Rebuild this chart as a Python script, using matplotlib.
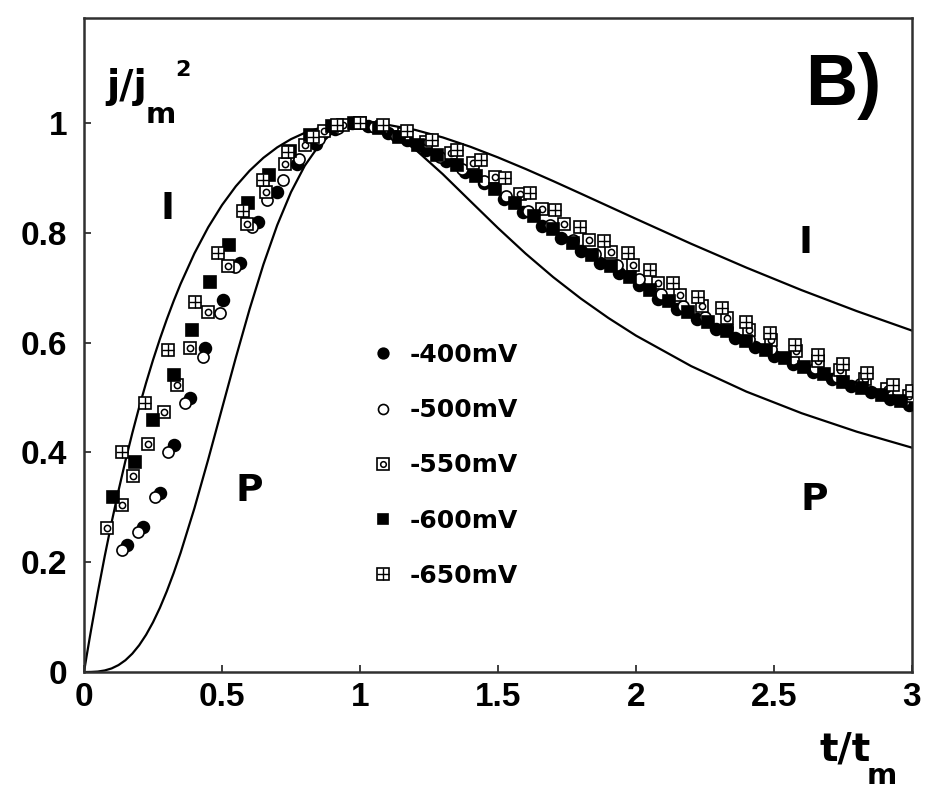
import matplotlib
matplotlib.use("Agg")
import matplotlib.pyplot as plt
from matplotlib.legend_handler import HandlerTuple

# Theoretical nucleation curves (instantaneous I and progressive P)
t_curve = [0, 0.01, 0.02, 0.025, 0.05, 0.075, 0.1, 0.125, 0.15, 0.175, 0.2,
           0.225, 0.25, 0.275, 0.3, 0.325, 0.35, 0.4, 0.45, 0.5, 0.55, 0.6,
           0.65, 0.7, 0.75, 0.8, 0.85, 0.9, 0.95, 1.0, 1.1, 1.2, 1.3, 1.4, 1.5,
           1.6, 1.7, 1.8, 1.9, 2.0, 2.2, 2.4, 2.6, 2.8, 3.0]
inst_curve = [0, 0.0305, 0.0602, 0.0747, 0.1449, 0.2107, 0.2724, 0.3302,
              0.3844, 0.4350, 0.4826, 0.5267, 0.5681, 0.6065, 0.6424, 0.6758,
              0.7068, 0.7623, 0.8099, 0.8503, 0.8845, 0.9129, 0.9364, 0.9554,
              0.9704, 0.9819, 0.9902, 0.9958, 0.9990, 1.0, 0.9965, 0.9872,
              0.9735, 0.9565, 0.9371, 0.9161, 0.8940, 0.8712, 0.8482, 0.8252,
              0.7798, 0.7364, 0.6954, 0.6572, 0.6217]
prog_curve = [0, 0.0, 0.0001, 0.0001, 0.0008, 0.0028, 0.0065, 0.0126, 0.0214,
              0.0334, 0.0488, 0.0678, 0.0905, 0.1169, 0.1470, 0.1804, 0.2170,
              0.2981, 0.3870, 0.4798, 0.5723, 0.6608, 0.7421, 0.8137, 0.8739,
              0.9221, 0.9580, 0.9822, 0.9958, 1.0, 0.9861, 0.9518, 0.9066,
              0.8574, 0.8085, 0.7620, 0.7191, 0.6801, 0.6447, 0.6126, 0.5570,
              0.5106, 0.4713, 0.4376, 0.4085]

# Experimental transients, (t/tm, (j/jm)^2)
t_400 = [0.156, 0.214, 0.275, 0.326, 0.384, 0.438, 0.504, 0.565, 0.63, 0.70,
         0.77, 0.84, 0.91, 0.97, 1.03, 1.1, 1.17, 1.24, 1.31, 1.38, 1.45, 1.52,
         1.59, 1.66, 1.73, 1.80, 1.87, 1.94, 2.01, 2.08, 2.15, 2.22, 2.29, 2.36,
         2.43, 2.50, 2.57, 2.64, 2.71, 2.78, 2.85, 2.92, 2.99]
j_400 = [0.231, 0.264, 0.326, 0.413, 0.499, 0.59, 0.678, 0.745, 0.82, 0.875,
         0.925, 0.962, 0.988, 0.999, 0.995, 0.982, 0.968, 0.950, 0.930, 0.910,
         0.890, 0.862, 0.838, 0.813, 0.79, 0.766, 0.745, 0.727, 0.705, 0.68,
         0.661, 0.643, 0.625, 0.608, 0.592, 0.576, 0.56, 0.546, 0.533, 0.521,
         0.51, 0.497, 0.487]

t_500 = [0.138, 0.196, 0.257, 0.304, 0.366, 0.43, 0.493, 0.547, 0.609, 0.663,
         0.72, 0.78, 0.85, 0.92, 1.05, 1.13, 1.21, 1.29, 1.37, 1.45, 1.53, 1.61,
         1.69, 1.77, 1.85, 1.93, 2.01, 2.09, 2.17, 2.25, 2.33, 2.41, 2.49, 2.57,
         2.65, 2.73, 2.81, 2.89, 2.97]
j_500 = [0.222, 0.255, 0.319, 0.40, 0.49, 0.574, 0.654, 0.738, 0.81, 0.86,
         0.896, 0.935, 0.97, 0.99, 0.992, 0.977, 0.960, 0.938, 0.916, 0.895,
         0.866, 0.840, 0.814, 0.787, 0.762, 0.741, 0.716, 0.688, 0.666, 0.646,
         0.626, 0.606, 0.588, 0.570, 0.553, 0.537, 0.524, 0.507, 0.494]

t_550 = [0.083, 0.138, 0.178, 0.232, 0.29, 0.337, 0.384, 0.45, 0.52, 0.59,
         0.66, 0.73, 0.80, 0.87, 0.94, 1.0, 1.08, 1.16, 1.24, 1.33, 1.41, 1.49,
         1.58, 1.66, 1.74, 1.83, 1.91, 1.99, 2.08, 2.16, 2.24, 2.33, 2.41, 2.49,
         2.58, 2.66, 2.74, 2.83, 2.91, 2.99]
j_550 = [0.262, 0.304, 0.357, 0.415, 0.473, 0.523, 0.59, 0.655, 0.74, 0.815,
         0.875, 0.925, 0.96, 0.985, 0.997, 1.0, 0.992, 0.980, 0.965, 0.945,
         0.927, 0.901, 0.870, 0.844, 0.816, 0.787, 0.764, 0.742, 0.709, 0.687,
         0.666, 0.644, 0.623, 0.604, 0.584, 0.566, 0.550, 0.534, 0.516, 0.502]

t_600 = [0.105, 0.185, 0.25, 0.325, 0.39, 0.455, 0.525, 0.595, 0.67, 0.745,
         0.82, 0.9, 0.98, 1.07, 1.14, 1.21, 1.28, 1.35, 1.42, 1.49, 1.56, 1.63,
         1.70, 1.77, 1.84, 1.91, 1.98, 2.05, 2.12, 2.19, 2.26, 2.33, 2.40, 2.47,
         2.54, 2.61, 2.68, 2.75, 2.82, 2.89, 2.96]
j_600 = [0.319, 0.383, 0.459, 0.541, 0.623, 0.71, 0.778, 0.854, 0.905, 0.948,
         0.978, 0.995, 1.0, 0.99, 0.975, 0.96, 0.942, 0.923, 0.904, 0.880,
         0.855, 0.830, 0.806, 0.782, 0.760, 0.739, 0.720, 0.695, 0.675, 0.656,
         0.638, 0.621, 0.603, 0.587, 0.571, 0.556, 0.542, 0.529, 0.518, 0.504,
         0.493]

t_650 = [0.138, 0.221, 0.304, 0.402, 0.486, 0.576, 0.65, 0.739, 0.83, 0.917,
         1.0, 1.083, 1.17, 1.26, 1.35, 1.44, 1.525, 1.616, 1.706, 1.797, 1.884,
         1.971, 2.05, 2.134, 2.225, 2.31, 2.40, 2.486, 2.576, 2.66, 2.75, 2.837,
         2.93, 3.0]
j_650 = [0.40, 0.49, 0.587, 0.674, 0.763, 0.84, 0.896, 0.947, 0.975, 0.996,
         1.0, 0.996, 0.985, 0.969, 0.951, 0.933, 0.90, 0.872, 0.842, 0.81,
         0.785, 0.763, 0.732, 0.708, 0.683, 0.663, 0.638, 0.618, 0.596, 0.578,
         0.56, 0.545, 0.523, 0.512]

series_labels = ["-400mV", "-500mV", "-550mV", "-600mV", "-650mV"]
x_ticks = [0, 0.5, 1, 1.5, 2, 2.5, 3]
x_ticklabels = ["0", "0.5", "1", "1.5", "2", "2.5", "3"]
y_ticks = [0, 0.2, 0.4, 0.6, 0.8, 1.0]
y_ticklabels = ["0", "0.2", "0.4", "0.6", "0.8", "1"]

W, H = 927, 789
fig = plt.figure(figsize=(W / 100, H / 100), dpi=100)
ax = fig.add_axes([84 / W, 1 - 672 / H, (912 - 84) / W, (672 - 18) / H])
ax.set_xlim(0, 3)
ax.set_ylim(0, 1.191)

# model curves
ax.plot(t_curve, inst_curve, color="black", lw=1.6, zorder=2)
ax.plot(t_curve, prog_curve, color="black", lw=1.6, zorder=2)

ms = 9
mew = 1.2
h400, = ax.plot(t_400, j_400, ls="none", marker="o", ms=8.5, mfc="black",
                mec="black", mew=mew, zorder=3)
h500, = ax.plot(t_500, j_500, ls="none", marker="o", ms=8, mfc="white",
                mec="black", mew=mew, zorder=4)
h550a, = ax.plot(t_550, j_550, ls="none", marker="s", ms=ms, mfc="white",
                 mec="black", mew=mew, zorder=5)
h550b, = ax.plot(t_550, j_550, ls="none", marker="o", ms=4.5, mfc="white",
                 mec="black", mew=1.1, zorder=5)
h600, = ax.plot(t_600, j_600, ls="none", marker="s", ms=8.5, mfc="black",
                mec="black", mew=mew, zorder=6)
h650a, = ax.plot(t_650, j_650, ls="none", marker="s", ms=ms, mfc="white",
                 mec="black", mew=mew, zorder=7)
h650b, = ax.plot(t_650, j_650, ls="none", marker="+", ms=ms, mec="black",
                 mew=1.0, zorder=7)

# axes styling
for side in ("left", "right", "top", "bottom"):
    ax.spines[side].set_linewidth(1.8)
    ax.spines[side].set_color("#303030")
ax.set_xticks(x_ticks)
ax.set_xticklabels(x_ticklabels)
ax.set_yticks(y_ticks)
ax.set_yticklabels(y_ticklabels)
ax.tick_params(axis="both", direction="in", length=5, width=1.3,
               color="#303030", top=False, right=False)
ax.tick_params(axis="x", pad=7)
ax.tick_params(axis="y", pad=12)
for lab in ax.get_xticklabels() + ax.get_yticklabels():
    lab.set_fontfamily("Liberation Sans")
    lab.set_fontweight("bold")
    lab.set_fontsize(24)


def fx(px):
    return px / W


def fy(py):
    return 1 - py / H


bold = dict(fontweight="bold", color="black")
# axis labels
fig.text(fx(106), fy(87), "j/j", family="DejaVu Sans", fontsize=28,
         ha="left", va="center", **bold)
fig.text(fx(146), fy(115), "m", family="DejaVu Sans", fontsize=21,
         ha="left", va="center", **bold)
fig.text(fx(175), fy(70), "2", family="DejaVu Sans", fontsize=16,
         ha="left", va="center", **bold)
fig.text(fx(819), fy(750), "t/t", family="DejaVu Sans", fontsize=28,
         ha="left", va="center", **bold)
fig.text(fx(867), fy(776), "m", family="DejaVu Sans", fontsize=21,
         ha="left", va="center", **bold)

# curve and panel annotations
fig.text(fx(168), fy(209), "I", family="DejaVu Sans", fontsize=27,
         ha="center", va="center", **bold)
fig.text(fx(806), fy(243), "I", family="DejaVu Sans", fontsize=27,
         ha="center", va="center", **bold)
fig.text(fx(249), fy(491), "P", family="DejaVu Sans", fontsize=27,
         ha="center", va="center", **bold)
fig.text(fx(814), fy(500), "P", family="DejaVu Sans", fontsize=27,
         ha="center", va="center", **bold)
fig.text(fx(843), fy(86), "B)", family="Liberation Sans", fontsize=52,
         ha="center", va="center", **bold)

leg = ax.legend([h400, h500, (h550a, h550b), h600, (h650a, h650b)],
                series_labels,
                handler_map={tuple: HandlerTuple(ndivide=1, pad=0)},
                loc="upper left", bbox_to_anchor=(fx(370), fy(343)),
                bbox_transform=fig.transFigure, borderaxespad=0, borderpad=0,
                frameon=False, numpoints=1, handlelength=1.0,
                handletextpad=0.6, labelspacing=1.25, markerscale=0.9,
                prop={"family": "DejaVu Sans", "weight": "bold", "size": 18})

fig.savefig("out.png", dpi=100)
